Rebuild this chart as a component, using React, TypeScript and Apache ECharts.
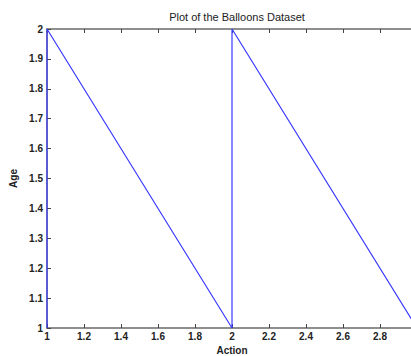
import React, { useEffect, useRef } from "react";
import * as echarts from "echarts";

const points: [number, number][] = [
  [1, 1],
  [1, 2],
  [2, 1],
  [2, 2],
  [3, 1],
];
const xMin = 1;
const xMax = 3;
const xStep = 0.2;
const yMin = 1;
const yMax = 2;
const yStep = 0.1;
const titleText = "Plot of the Balloons Dataset";
const xName = "Action";
const yName = "Age";

const fmt = (v: number) => String(Math.round(v * 10) / 10);

export default function App() {
  const ref = useRef<HTMLDivElement>(null);
  useEffect(() => {
    document.body.style.margin = "0";
    if (!ref.current) return;
    const chart = echarts.init(ref.current, null, { renderer: "svg" });
    const axisLine = { show: true, lineStyle: { color: "#6a6a6a", width: 1.5 } };
    const labelStyle = {
      color: "#222",
      fontFamily: "Liberation Sans",
      fontWeight: "bold" as const,
      fontSize: 10,
    };
    chart.setOption({
      animation: false,
      backgroundColor: "#fff",
      title: {
        text: titleText,
        left: 232,
        top: 6,
        textAlign: "center",
        textStyle: { fontFamily: "Liberation Sans", fontSize: 11, fontWeight: "normal", color: "#222" },
      },
      grid: { left: 47, top: 29, width: 370, height: 299, containLabel: false, outerBoundsMode: "none" },
      xAxis: [
        {
          type: "value",
          min: xMin,
          max: xMax,
          interval: xStep,
          position: "bottom",
          name: xName,
          nameLocation: "middle",
          nameGap: 13,
          nameTextStyle: { ...labelStyle, fontSize: 10, lineHeight: 10 },
          axisLine,
          axisTick: { show: true, inside: true, length: 4, lineStyle: { color: "#444" } },
          axisLabel: { ...labelStyle, margin: 3, lineHeight: 10, formatter: fmt, showMaxLabel: false },
          splitLine: { show: false },
        },
        {
          type: "value",
          min: xMin,
          max: xMax,
          interval: xStep,
          position: "top",
          axisLine,
          axisTick: { show: true, inside: true, length: 4, lineStyle: { color: "#444" } },
          axisLabel: { show: false },
          splitLine: { show: false },
        },
      ],
      yAxis: {
        type: "value",
        min: yMin,
        max: yMax,
        interval: yStep,
        name: yName,
        nameLocation: "middle",
        nameGap: 19,
        nameTextStyle: { ...labelStyle, fontSize: 10 },
        axisLine,
        axisTick: { show: true, inside: true, length: 4, lineStyle: { color: "#444" } },
        axisLabel: { ...labelStyle, margin: 4, formatter: fmt },
        splitLine: { show: false },
      },
      series: [
        {
          type: "line",
          data: points,
          showSymbol: false,
          xAxisIndex: 0,
          lineStyle: { color: "#3a3aff", width: 1.2 },
          itemStyle: { color: "#3a3aff" },
        },
      ],
    });
    return () => chart.dispose();
  }, []);
  return <div ref={ref} style={{ width: 411, height: 356 }} />;
}
